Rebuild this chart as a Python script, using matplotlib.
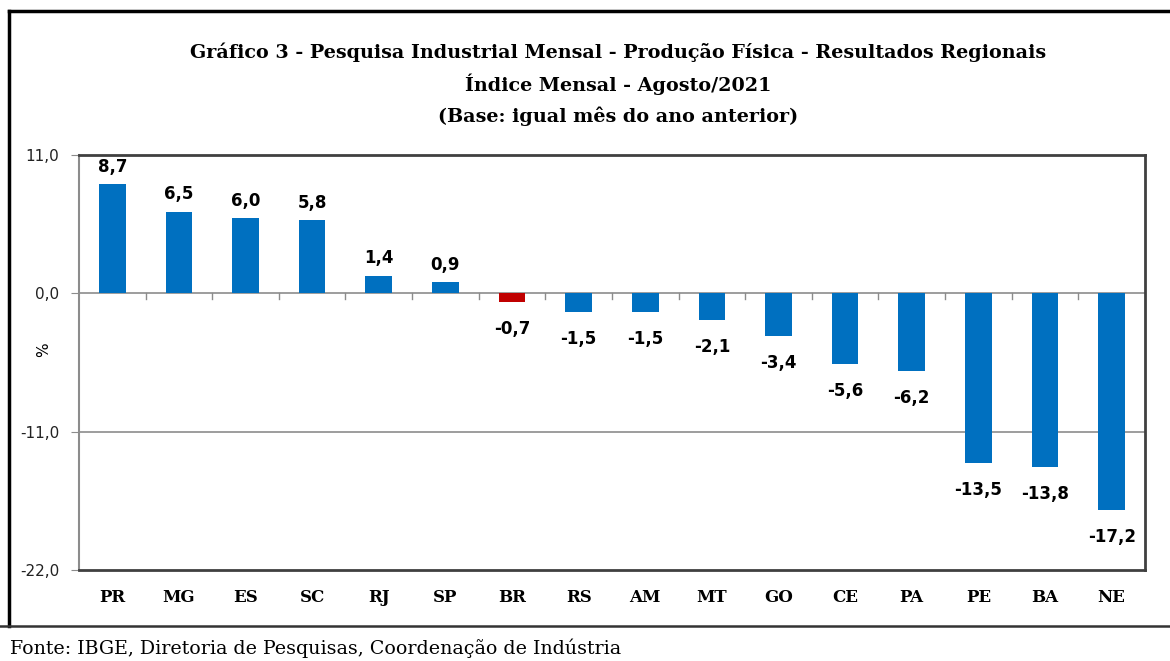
import matplotlib.pyplot as plt
from matplotlib.lines import Line2D

regions = ["PR", "MG", "ES", "SC", "RJ", "SP", "BR", "RS", "AM", "MT", "GO", "CE", "PA", "PE", "BA", "NE"]
values = [8.7, 6.5, 6.0, 5.8, 1.4, 0.9, -0.7, -1.5, -1.5, -2.1, -3.4, -5.6, -6.2, -13.5, -13.8, -17.2]
yticks = [11.0, 0.0, -11.0, -22.0]

blue = "#0070c0"
red = "#c00000"
colors = [red if r == "BR" else blue for r in regions]

fig = plt.figure(figsize=(11.7, 6.61), dpi=100)
ax = fig.add_axes([0.0675, 0.1377, 0.9111, 0.6278])

x = list(range(len(regions)))
ax.bar(x, values, width=0.4, color=colors, zorder=3)
ax.set_xlim(-0.5, len(regions) - 0.5)
ax.set_ylim(-22, 11)

# grid lines
for y in [0, -11]:
    ax.axhline(y, color="#8c8c8c", lw=1.2, zorder=2)
# category boundary ticks on zero line
for b in range(1, len(regions)):
    ax.plot([b - 0.5, b - 0.5], [0, -0.45], color="#8c8c8c", lw=1.0, zorder=2)

ax.set_yticks(yticks)
ax.set_yticklabels([f"{v:.1f}".replace(".", ",") for v in yticks], fontsize=11,
                   family="DejaVu Sans", color="#222222")
ax.tick_params(axis="y", length=6, color="#8c8c8c", pad=8)
ax.set_xticks(x)
ax.set_xticklabels(regions, fontsize=12, family="DejaVu Serif", fontweight="bold")
ax.tick_params(axis="x", length=0, pad=14)

for s in ["top", "right", "bottom"]:
    ax.spines[s].set_color("#404040")
    ax.spines[s].set_linewidth(2)
ax.spines["left"].set_color("#8c8c8c")
ax.spines["left"].set_linewidth(1.5)

ax.set_ylabel("%", fontsize=11)
ax.yaxis.set_label_coords(-0.026, 0.53)

for xi, v in zip(x, values):
    lab = f"{v:.1f}".replace(".", ",")
    if v >= 0:
        ax.annotate(lab, (xi, v), xytext=(0, 6), textcoords="offset points",
                    ha="center", va="bottom", fontsize=12, fontweight="bold")
    else:
        ax.annotate(lab, (xi, v), xytext=(0, -13), textcoords="offset points",
                    ha="center", va="top", fontsize=12, fontweight="bold")

title = ["Gráfico 3 - Pesquisa Industrial Mensal - Produção Física - Resultados Regionais",
         "Índice Mensal - Agosto/2021",
         "(Base: igual mês do ano anterior)"]
for i, t in enumerate(title):
    fig.text(0.528, 1 - (52 + i * 32) / 661, t, ha="center", va="center",
             fontsize=13.8, family="DejaVu Serif", fontweight="bold")

fig.text(10 / 1170, 1 - 648 / 661, "Fonte: IBGE, Diretoria de Pesquisas, Coordenação de Indústria",
         ha="left", va="center", fontsize=13.7, family="DejaVu Serif")

# outer frame
fig.add_artist(Line2D([9 / 1170, 9 / 1170], [1 - 11 / 661, 1 - 626 / 661], color="black", lw=2.5))
fig.add_artist(Line2D([9 / 1170, 1], [1 - 11 / 661, 1 - 11 / 661], color="black", lw=2.5))
fig.add_artist(Line2D([0, 1], [1 - 626 / 661, 1 - 626 / 661], color="#333333", lw=1.8))

fig.savefig("out.png", dpi=100)
